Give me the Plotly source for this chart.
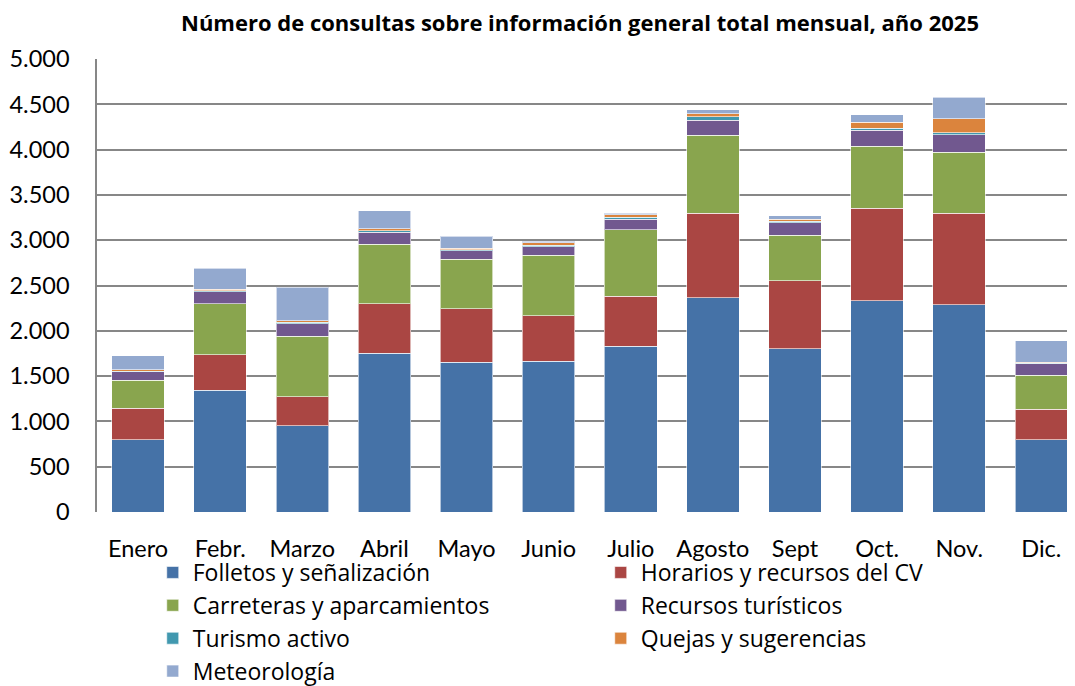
import plotly.graph_objects as go

months = ["Enero", "Febr.", "Marzo", "Abril", "Mayo", "Junio", "Julio",
          "Agosto", "Sept", "Oct.", "Nov.", "Dic."]

folletos = [800, 1345, 950, 1755, 1655, 1665, 1830, 2365, 1800, 2330, 2285, 800]
horarios = [345, 390, 320, 545, 590, 500, 550, 935, 750, 1025, 1015, 335]
carreteras = [310, 565, 670, 655, 545, 670, 735, 860, 505, 680, 670, 375]
recursos = [95, 130, 140, 135, 95, 95, 115, 165, 135, 180, 195, 125]
turismo = [5, 10, 15, 15, 10, 15, 25, 35, 20, 20, 20, 5]
quejas = [15, 20, 15, 20, 15, 25, 25, 35, 20, 65, 155, 15]
meteo = [155, 230, 370, 200, 135, 20, 20, 45, 40, 85, 240, 235]

series = [
    ("Folletos y señalización", folletos, "#4572A7"),
    ("Horarios y recursos del CV", horarios, "#AA4643"),
    ("Carreteras y aparcamientos", carreteras, "#89A54E"),
    ("Recursos turísticos", recursos, "#71588F"),
    ("Turismo activo", turismo, "#4198AF"),
    ("Quejas y sugerencias", quejas, "#DB843D"),
    ("Meteorología", meteo, "#93A9CF"),
]

fig = go.Figure()
for name, vals, color in series:
    fig.add_trace(go.Bar(
        x=months, y=vals, name=name,
        marker=dict(color=color, line=dict(color="rgba(255,255,255,0.6)", width=1)),
    ))

FONT = "Lato"
LFONT = "Open Sans"
fig.update_layout(
    barmode="stack",
    bargap=0.36,
    width=1075, height=686,
    margin=dict(l=89, r=8, t=51, b=182, autoexpand=False),
    paper_bgcolor="white", plot_bgcolor="white",
    separators=",.",
    font=dict(family=FONT, size=20, color="black"),
    title=dict(
        text="<b>Número de consultas sobre información general total mensual, año 2025</b>",
        x=572/1075, xanchor="center", xref="container",
        y=1-15/686, yanchor="middle", yref="container",
        font=dict(family=LFONT, size=22, color="black"),
    ),
    legend=dict(
        orientation="h", entrywidth=403, entrywidthmode="pixels",
        x=0.057, xanchor="left", y=-0.086, yanchor="top",
        font=dict(family=LFONT, size=23, color="black"),
        traceorder="normal", bgcolor="rgba(0,0,0,0)",
    ),
    showlegend=True,
)
fig.update_xaxes(
    range=[-0.5, 11.41], showgrid=False, showline=False, zeroline=False,
    ticks="", ticklabelstandoff=20, tickfont=dict(family=FONT, size=23.5),
)
fig.update_yaxes(
    range=[0, 5000], dtick=500, tickformat=",d",
    showgrid=True, gridcolor="#878787", gridwidth=1.5,
    showline=True, linecolor="#878787", linewidth=1.5,
    zeroline=False, ticks="", ticklabelstandoff=21,
    tickfont=dict(family=FONT, size=23.5),
)

fig.write_html("out.html")
